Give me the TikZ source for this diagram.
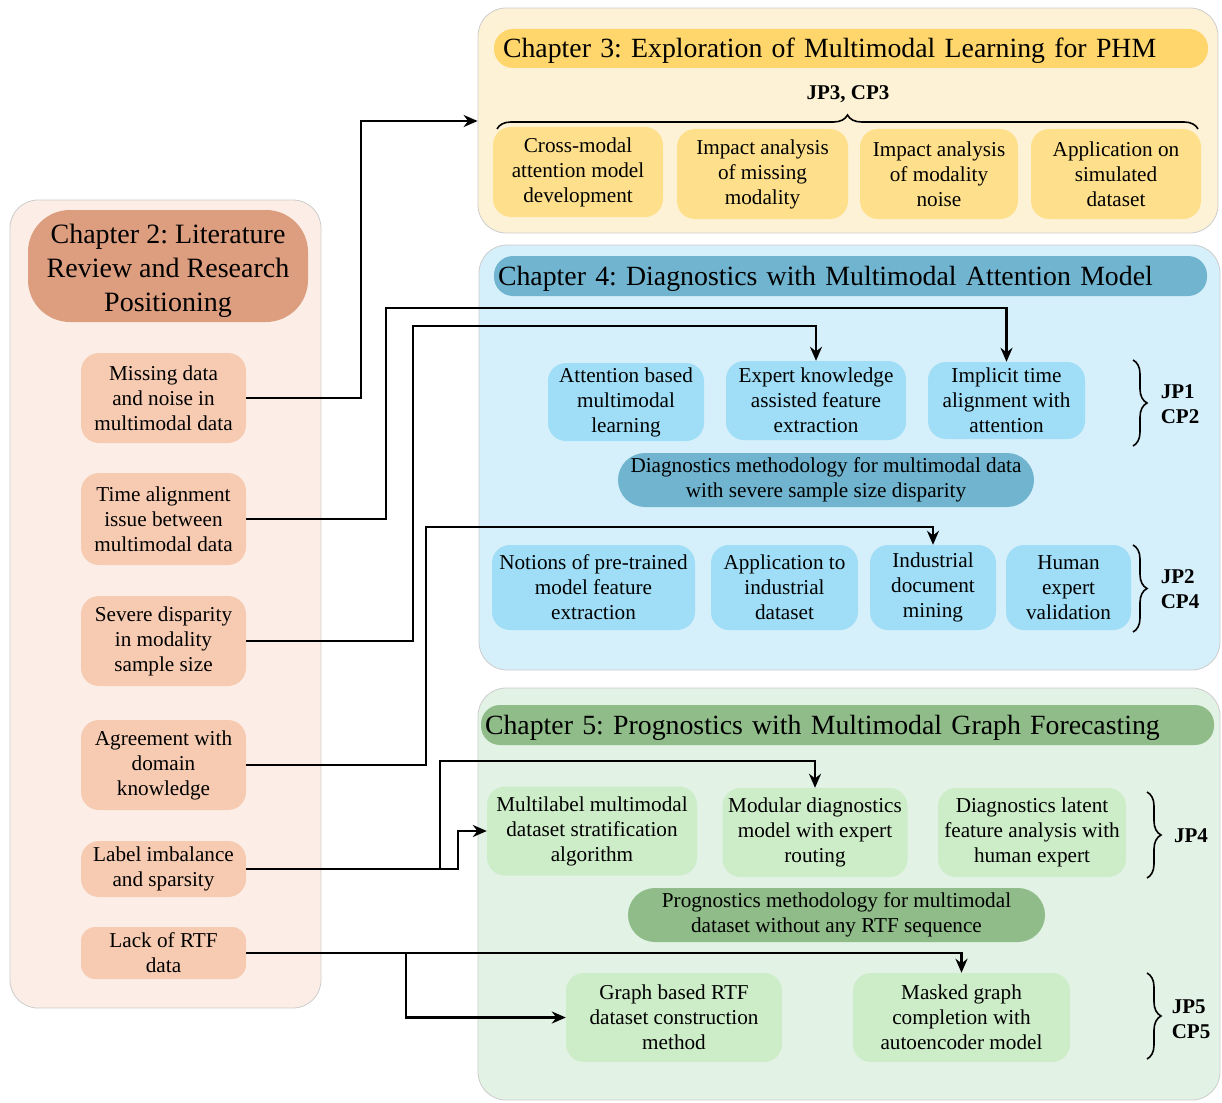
\documentclass[tikz,border=0pt]{standalone}
\usepackage{fontspec}
\setmainfont{Liberation Serif}
\usetikzlibrary{arrows.meta,decorations.pathreplacing}
\frenchspacing

\definecolor{litbg}{HTML}{FCEEE6}
\definecolor{littitle}{HTML}{DD9E80}
\definecolor{lititem}{HTML}{F6CBB2}
\definecolor{expbg}{HTML}{FEF2D6}
\definecolor{exptitle}{HTML}{FED66C}
\definecolor{expitem}{HTML}{FEE08C}
\definecolor{diabg}{HTML}{D5F0FB}
\definecolor{diatitle}{HTML}{70B4CF}
\definecolor{diaitem}{HTML}{9FDEF6}
\definecolor{probg}{HTML}{E2F2E5}
\definecolor{protitle}{HTML}{8FBC88}
\definecolor{proitem}{HTML}{CDECC8}
\definecolor{panelline}{HTML}{CCCCCC}

\tikzset{
  panel/.style={draw=panelline, line width=0.8pt, rounded corners=28pt, inner sep=0pt},
  item/.style={rounded corners=18pt, align=center, inner sep=0pt,
               font=\fontsize{21.2}{25}\selectfont},
  titlebar/.style={rounded corners=19pt, align=left, inner sep=0pt,
               text height=25pt, text depth=6pt,
               font=\fontsize{27.8}{32}\selectfont},
  pub/.style={align=left, inner sep=0pt, font=\bfseries\fontsize{21}{25}\selectfont},
  cbrace/.style={decorate, decoration={brace, amplitude=14pt}, line width=1.6pt},
  link/.style={line width=2.5pt, -{Stealth[length=14pt,width=12pt]}},
}

\begin{document}
\frenchspacing
\begin{tikzpicture}[x=1pt, y=-1pt]
\useasboundingbox (0,0) rectangle (1222,1102);

% ---------- Chapter 2 ----------
\node[panel, fill=litbg, minimum width=311pt, minimum height=808pt] (litp) at (165.5,604) {};
\node[fill=littitle, rounded corners=42pt, inner sep=0pt,
      minimum width=280pt, minimum height=112pt,
      label={[name=littext, align=center, inner sep=0pt, yshift=-5pt,
              font=\fontsize{28}{34}\selectfont]center:Chapter 2: Literature\\Review and Research\\Positioning}]
      (litt) at (168,266) {};
\node[item, fill=lititem, minimum width=165pt, minimum height=90pt] (m1) at (163.5,398)
  {Missing data\\and noise in\\multimodal data};
\node[item, fill=lititem, minimum width=165pt, minimum height=92pt] (m2) at (163.5,519)
  {Time alignment\\issue between\\multimodal data};
\node[item, fill=lititem, minimum width=165pt, minimum height=90pt] (m3) at (163.5,641)
  {Severe disparity\\in modality\\sample size};
\node[item, fill=lititem, minimum width=165pt, minimum height=90pt] (m4) at (163.5,765)
  {Agreement with\\domain\\knowledge};
\node[item, fill=lititem, minimum width=165pt, minimum height=56pt] (m5) at (163.5,869)
  {Label imbalance\\and sparsity};
\node[item, fill=lititem, rounded corners=14pt, minimum width=165pt, minimum height=52pt] (m6) at (163.5,953)
  {Lack of RTF\\data};

% ---------- Chapter 3 ----------
\node[panel, fill=expbg, minimum width=740pt, minimum height=225pt] (expp) at (848,120.5) {};
\node[titlebar, fill=exptitle, minimum width=714pt, minimum height=39pt,
      text width=696pt] (expt) at (851,48.5)
  {Chapter 3: Exploration of Multimodal Learning for PHM};
\node[pub] (jp3) at (848,94) {JP3, CP3};
\coordinate (b3l) at (497,129);
\coordinate (b3r) at (1198,129);
\draw[cbrace] (b3l) -- (b3r);
\node[item, fill=expitem, minimum width=170pt, minimum height=90pt] (a1) at (578,172)
  {Cross-modal\\attention model\\development};
\node[item, fill=expitem, minimum width=171pt, minimum height=90pt] (a2) at (762.5,174)
  {Impact analysis\\of missing\\modality};
\node[item, fill=expitem, minimum width=158pt, minimum height=90pt] (a3) at (939,174)
  {Impact analysis\\of modality\\noise};
\node[item, fill=expitem, minimum width=170pt, minimum height=90pt] (a4) at (1116,174)
  {Application on\\simulated\\dataset};

% ---------- Chapter 4 ----------
\node[panel, fill=diabg, minimum width=741pt, minimum height=425pt] (diap) at (849.5,457.5) {};
\node[titlebar, fill=diatitle, minimum width=713pt, minimum height=40pt,
      text width=705pt] (diat) at (850.5,276)
  {Chapter 4: Diagnostics with Multimodal Attention Model};
\node[item, fill=diaitem, minimum width=156pt, minimum height=78pt] (b1) at (626,402)
  {Attention based\\multimodal\\learning};
\node[item, fill=diaitem, minimum width=180pt, minimum height=79pt] (b2) at (816,400.5)
  {Expert knowledge\\assisted feature\\extraction};
\node[item, fill=diaitem, minimum width=157pt, minimum height=77pt] (b3) at (1006.5,400.5)
  {Implicit time\\alignment with\\attention};
\node[item, fill=diatitle, rounded corners=27pt, minimum width=416pt, minimum height=54pt] (b4) at (826,480)
  {Diagnostics methodology for multimodal data\\with severe sample size disparity};
\node[item, fill=diaitem, minimum width=203pt, minimum height=85pt] (b5) at (593.5,587.5)
  {Notions of pre-trained\\model feature\\extraction};
\node[item, fill=diaitem, minimum width=147pt, minimum height=85pt] (b6) at (784.5,587.5)
  {Application to\\industrial\\dataset};
\node[item, fill=diaitem, minimum width=126pt, minimum height=85pt] (b7) at (933,587.5)
  {Industrial\\document\\mining};
\node[item, fill=diaitem, minimum width=125pt, minimum height=85pt] (b8) at (1068.5,587.5)
  {Human\\expert\\validation};
\coordinate (b41t) at (1133,360);
\coordinate (b41b) at (1133,446);
\draw[cbrace] (b41t) -- (b41b);
\node[pub] (jp1) at (1180,404) {JP1\\CP2};
\coordinate (b42t) at (1133,545);
\coordinate (b42b) at (1133,632);
\draw[cbrace] (b42t) -- (b42b);
\node[pub] (jp2) at (1180,589) {JP2\\CP4};

% ---------- Chapter 5 ----------
\node[panel, fill=probg, minimum width=742pt, minimum height=412pt] (prop) at (849,894) {};
\node[titlebar, fill=protitle, minimum width=733pt, minimum height=40pt,
      text width=725pt] (prot) at (847.5,725)
  {Chapter 5: Prognostics with Multimodal Graph Forecasting};
\node[item, fill=proitem, minimum width=210pt, minimum height=89pt] (c1) at (592,831)
  {Multilabel multimodal\\dataset stratification\\algorithm};
\node[item, fill=proitem, minimum width=185pt, minimum height=89pt] (c2) at (815,832.5)
  {Modular diagnostics\\model with expert\\routing};
\node[item, fill=proitem, minimum width=188pt, minimum height=89pt] (c3) at (1032,832.5)
  {Diagnostics latent\\feature analysis with\\human expert};
\node[item, fill=protitle, rounded corners=27pt, minimum width=417pt, minimum height=54pt] (c4) at (836.5,915)
  {Prognostics methodology for multimodal\\dataset without any RTF sequence};
\node[item, fill=proitem, minimum width=216pt, minimum height=89pt] (c5) at (674,1017.5)
  {Graph based RTF\\dataset construction\\method};
\node[item, fill=proitem, minimum width=217pt, minimum height=89pt] (c6) at (961.5,1017.5)
  {Masked graph\\completion with\\autoencoder model};
\coordinate (b51t) at (1147,792);
\coordinate (b51b) at (1147,878);
\draw[cbrace] (b51t) -- (b51b);
\node[pub] (jp4) at (1191,836) {JP4};
\coordinate (b52t) at (1147,973);
\coordinate (b52b) at (1147,1059);
\draw[cbrace] (b52t) -- (b52b);
\node[pub] (jp5) at (1191,1019) {JP5\\CP5};

% ---------- Connectors ----------
\coordinate (k1) at (361,121);
\draw[link] (m1.east) -| (k1) -- (expp.west |- k1);
\draw[link] (m2.east) -| (386,308) -| (b3.north);
\draw[link] (m3.east) -| (413,326) -| (b2.north);
\draw[link] (m4.east) -| (426,527) -| (b7.north);
\draw[link] (m5.east) -| (440,761) -| (c2.north);
\draw[link] (m5.east) -| (458,831) -- (c1.west);
\draw[link] (m6.east) -| (c6.north);
\draw[link] (m6.east) -| (406,1017.5) -- (c5.west);

\end{tikzpicture}
\end{document}
